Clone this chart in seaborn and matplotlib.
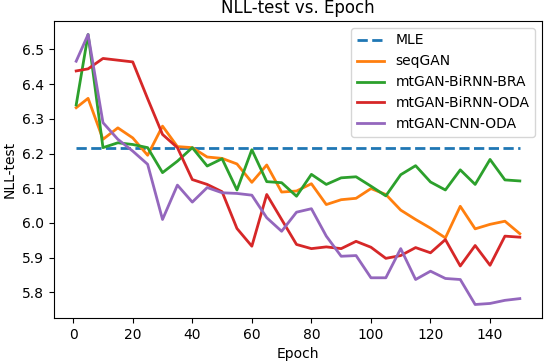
import numpy as np
import pandas as pd
import matplotlib
matplotlib.use("Agg")
import matplotlib.pyplot as plt
import seaborn as sns

# data
epochs = [1, 5, 10, 15, 20, 25, 30, 35, 40, 45, 50, 55, 60, 65, 70, 75,
          80, 85, 90, 95, 100, 105, 110, 115, 120, 125, 130, 135, 140, 145, 150]

mle = 6.217

seqgan = [6.332, 6.359, 6.241, 6.274, 6.245, 6.195, 6.279, 6.220, 6.217, 6.190,
          6.186, 6.170, 6.117, 6.167, 6.089, 6.092, 6.113, 6.053, 6.067, 6.071,
          6.099, 6.082, 6.037, 6.010, 5.985, 5.957, 6.048, 5.983, 5.996, 6.005, 5.969]

birnn_bra = [6.340, 6.543, 6.217, 6.231, 6.226, 6.217, 6.145, 6.178, 6.217, 6.164,
             6.185, 6.095, 6.211, 6.119, 6.116, 6.077, 6.140, 6.111, 6.130, 6.133,
             6.106, 6.078, 6.139, 6.165, 6.118, 6.095, 6.153, 6.111, 6.183, 6.124, 6.121]

birnn_oda = [6.438, 6.444, 6.474, 6.469, 6.464, 6.358, 6.255, 6.217, 6.125, 6.111,
             6.090, 5.984, 5.933, 6.082, 6.010, 5.938, 5.926, 5.931, 5.926, 5.947,
             5.930, 5.898, 5.906, 5.929, 5.914, 5.952, 5.876, 5.935, 5.878, 5.962, 5.959]

cnn_oda = [6.466, 6.543, 6.289, 6.241, 6.207, 6.169, 6.010, 6.109, 6.060, 6.102,
           6.087, 6.085, 6.080, 6.015, 5.976, 6.031, 6.041, 5.962, 5.904, 5.906,
           5.842, 5.842, 5.926, 5.837, 5.861, 5.840, 5.837, 5.765, 5.768, 5.777, 5.782]

fig, ax = plt.subplots(figsize=(5.44, 3.62), dpi=100)
fig.subplots_adjust(left=54/544, right=542/544, top=1-21/362, bottom=1-318/362)

sns.lineplot(x=epochs, y=[mle] * len(epochs), ax=ax, color="C0",
             linestyle="--", linewidth=2, label="MLE")
sns.lineplot(x=epochs, y=seqgan, ax=ax, color="C1", linewidth=2, label="seqGAN")
sns.lineplot(x=epochs, y=birnn_bra, ax=ax, color="C2", linewidth=2, label="mtGAN-BiRNN-BRA")
sns.lineplot(x=epochs, y=birnn_oda, ax=ax, color="C3", linewidth=2, label="mtGAN-BiRNN-ODA")
sns.lineplot(x=epochs, y=cnn_oda, ax=ax, color="C4", linewidth=2, label="mtGAN-CNN-ODA")

ax.set_title("NLL-test vs. Epoch")
ax.set_xlabel("Epoch")
ax.set_ylabel("NLL-test")
ax.set_xticks([0, 20, 40, 60, 80, 100, 120, 140])
ax.set_yticks([5.8, 5.9, 6.0, 6.1, 6.2, 6.3, 6.4, 6.5])
ax.legend(loc="upper right")

plt.savefig("out.png", dpi=100)
